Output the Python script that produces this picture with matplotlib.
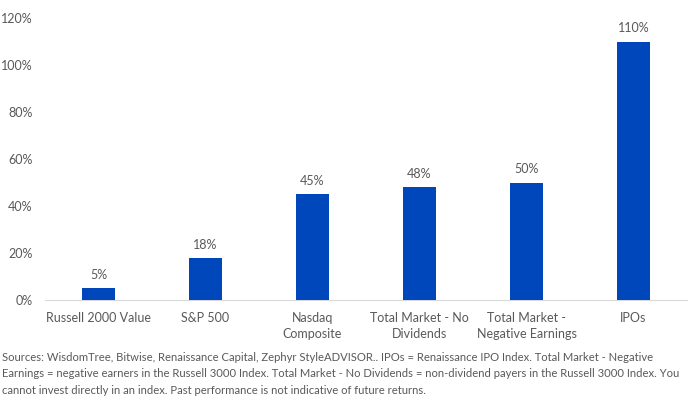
import matplotlib
matplotlib.use("Agg")
import matplotlib.pyplot as plt
import numpy as np

plt.rcParams["font.family"] = ["Lato", "DejaVu Sans"]

categories = ["Russell 2000 Value", "S&P 500", "Nasdaq\nComposite",
              "Total Market - No\nDividends", "Total Market -\nNegative Earnings", "IPOs"]
values = [5, 18, 45, 48, 50, 110]
yticks = [0, 20, 40, 60, 80, 100, 120]

source = ("Sources: WisdomTree, Bitwise, Renaissance Capital, Zephyr StyleADVISOR.. IPOs = Renaissance IPO Index. Total Market - Negative\n"
          "Earnings = negative earners in the Russell 3000 Index. Total Market - No Dividends = non-dividend payers in the Russell 3000 Index. You\n"
          "cannot invest directly in an index. Past performance is not indicative of future returns.")

text_color = "#595959"
bar_color = "#0047BB"

fig = plt.figure(figsize=(6.94, 4.05), dpi=100)
ax = fig.add_axes([45 / 694, 105 / 405, 642 / 694, 282 / 405])

x = np.arange(len(categories))
ax.bar(x, values, width=0.31, color=bar_color, zorder=3)
for xi, v in zip(x, values):
    ax.text(xi, v + 3, f"{v}%", ha="center", va="bottom", fontsize=9, color=text_color)

ax.set_xlim(-0.5, len(categories) - 0.5)
ax.set_ylim(0, 120)
ax.set_yticks(yticks)
ax.set_yticklabels([f"{t}%" for t in yticks])
ax.set_xticks(x)
ax.set_xticklabels(categories, linespacing=1.35)
ax.tick_params(axis="both", length=0, labelsize=9, colors=text_color)
ax.tick_params(axis="x", pad=9)
ax.tick_params(axis="y", pad=9)

for s in ["top", "right", "left"]:
    ax.spines[s].set_visible(False)
ax.spines["bottom"].set_color("#d9d9d9")

fig.text(2 / 694, 1 - 352 / 405, source, ha="left", va="top", fontsize=8.1,
         color=text_color, linespacing=1.6)

fig.savefig("out.png", dpi=100)
